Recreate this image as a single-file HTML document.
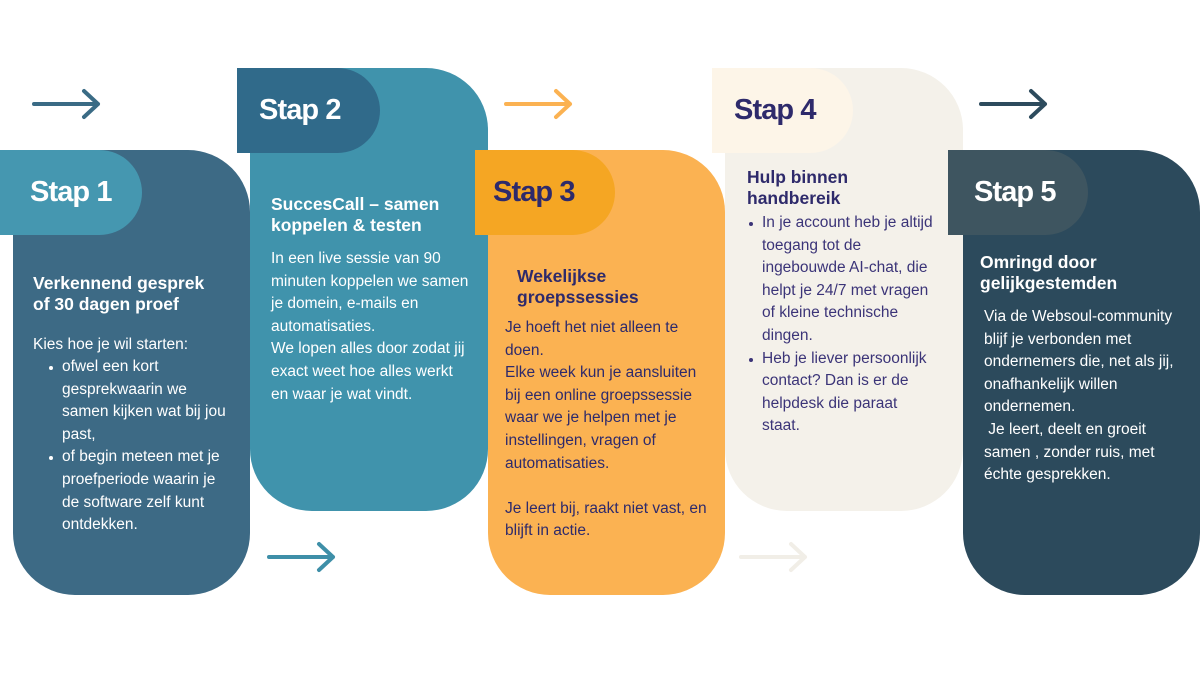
<!DOCTYPE html>
<html><head><meta charset="utf-8"><style>
*{margin:0;padding:0;box-sizing:border-box}
body{width:1200px;height:675px;background:#fff;position:relative;overflow:hidden;font-family:"Liberation Sans",sans-serif}
.a{position:absolute}
.card{position:absolute;border-radius:0 62px 62px 62px}
.tab{position:absolute;height:85px;border-radius:0 43px 43px 0;font-weight:bold;font-size:29px;letter-spacing:-0.9px;line-height:85px;padding-left:22px}
.h{position:absolute;font-weight:bold;font-size:17.5px;line-height:21px;letter-spacing:0px;white-space:nowrap}
.t{position:absolute;font-size:15.5px;line-height:22.6px;letter-spacing:0px;white-space:nowrap}
.b{position:relative}
.b:before{content:"";position:absolute;left:-13px;top:10px;width:4px;height:4px;border-radius:50%;background:currentColor}
</style></head><body>
<svg class="a" style="left:0;top:0" width="1200" height="675">
<g fill="none" stroke-width="4" stroke-linecap="round" stroke-linejoin="round">
<path d="M34 104H98M84 91L98 104L84 117" stroke="#3a6b85"/>
<path d="M269 557H333M319 544L333 557L319 570" stroke="#3e8fa8"/>
<path d="M506 104H570M556 91L570 104L556 117" stroke="#fbb252"/>
<path d="M741 557H805M791 544L805 557L791 570" stroke="#f1eee7"/>
<path d="M981 104H1045M1031 91L1045 104L1031 117" stroke="#2d4b5d"/>
</g></svg>

<div class="a" style="left:0;top:150px;width:40px;height:85px;background:#3d6a85"></div>
<div class="card" style="left:13px;top:150px;width:237px;height:445px;background:#3d6a85"></div>
<div class="card" style="left:250px;top:68px;width:238px;height:443px;background:#4093ac"></div>
<div class="card" style="left:488px;top:150px;width:237px;height:445px;background:#fbb252"></div>
<div class="card" style="left:725px;top:68px;width:238px;height:443px;background:#f4f1ea"></div>
<div class="card" style="left:963px;top:150px;width:237px;height:445px;background:#2c4a5c"></div>

<div class="tab" style="left:0;top:150px;width:142px;background:#4597b0;color:#fff;padding-left:30px">Stap 1</div>
<div class="tab" style="left:237px;top:68px;width:143px;background:#306a8a;color:#fff">Stap 2</div>
<div class="tab" style="left:475px;top:150px;width:140px;background:#f5a623;color:#2e2a6b;padding-left:18px">Stap 3</div>
<div class="tab" style="left:712px;top:68px;width:141px;background:#fdf5e8;color:#2e2a6b">Stap 4</div>
<div class="tab" style="left:948px;top:150px;width:140px;background:#3e5560;color:#fff;padding-left:26px">Stap 5</div>

<div class="h" style="left:33px;top:273px;color:#fff">Verkennend gesprek<br>of 30 dagen proef</div>
<div class="t" style="left:33px;top:334px;color:#fff">Kies hoe je wil starten:</div>
<div class="t" style="left:62px;top:356px;color:#fff"><div class="b">ofwel een kort</div>gesprekwaarin we<br>samen kijken wat bij jou<br>past,<div class="b">of begin meteen met je</div>proefperiode waarin je<br>de software zelf kunt<br>ontdekken.</div>

<div class="h" style="left:271px;top:194px;color:#fff">SuccesCall – samen<br>koppelen &amp; testen</div>
<div class="t" style="left:271px;top:248px;color:#fff">In een live sessie van 90<br>minuten koppelen we samen<br>je domein, e-mails en<br>automatisaties.<br>We lopen alles door zodat jij<br>exact weet hoe alles werkt<br>en waar je wat vindt.</div>

<div class="h" style="left:517px;top:266px;color:#2e2a6b">Wekelijkse<br>groepssessies</div>
<div class="t" style="left:505px;top:317px;color:#2e2a6b">Je hoeft het niet alleen te<br>doen.<br>Elke week kun je aansluiten<br>bij een online groepssessie<br>waar we je helpen met je<br>instellingen, vragen of<br>automatisaties.<br><br>Je leert bij, raakt niet vast, en<br>blijft in actie.</div>

<div class="h" style="left:747px;top:167px;color:#2e2a6b">Hulp binnen<br>handbereik</div>
<div class="t" style="left:762px;top:212px;color:#3b3478"><div class="b">In je account heb je altijd</div>toegang tot de<br>ingebouwde AI-chat, die<br>helpt je 24/7 met vragen<br>of kleine technische<br>dingen.<div class="b">Heb je liever persoonlijk</div>contact? Dan is er de<br>helpdesk die paraat<br>staat.</div>

<div class="h" style="left:980px;top:252px;color:#fff">Omringd door<br>gelijkgestemden</div>
<div class="t" style="left:984px;top:306px;color:#fff">Via de Websoul-community<br>blijf je verbonden met<br>ondernemers die, net als jij,<br>onafhankelijk willen<br>ondernemen.<br>&nbsp;Je leert, deelt en groeit<br>samen , zonder ruis, met<br>échte gesprekken.</div>
</body></html>
